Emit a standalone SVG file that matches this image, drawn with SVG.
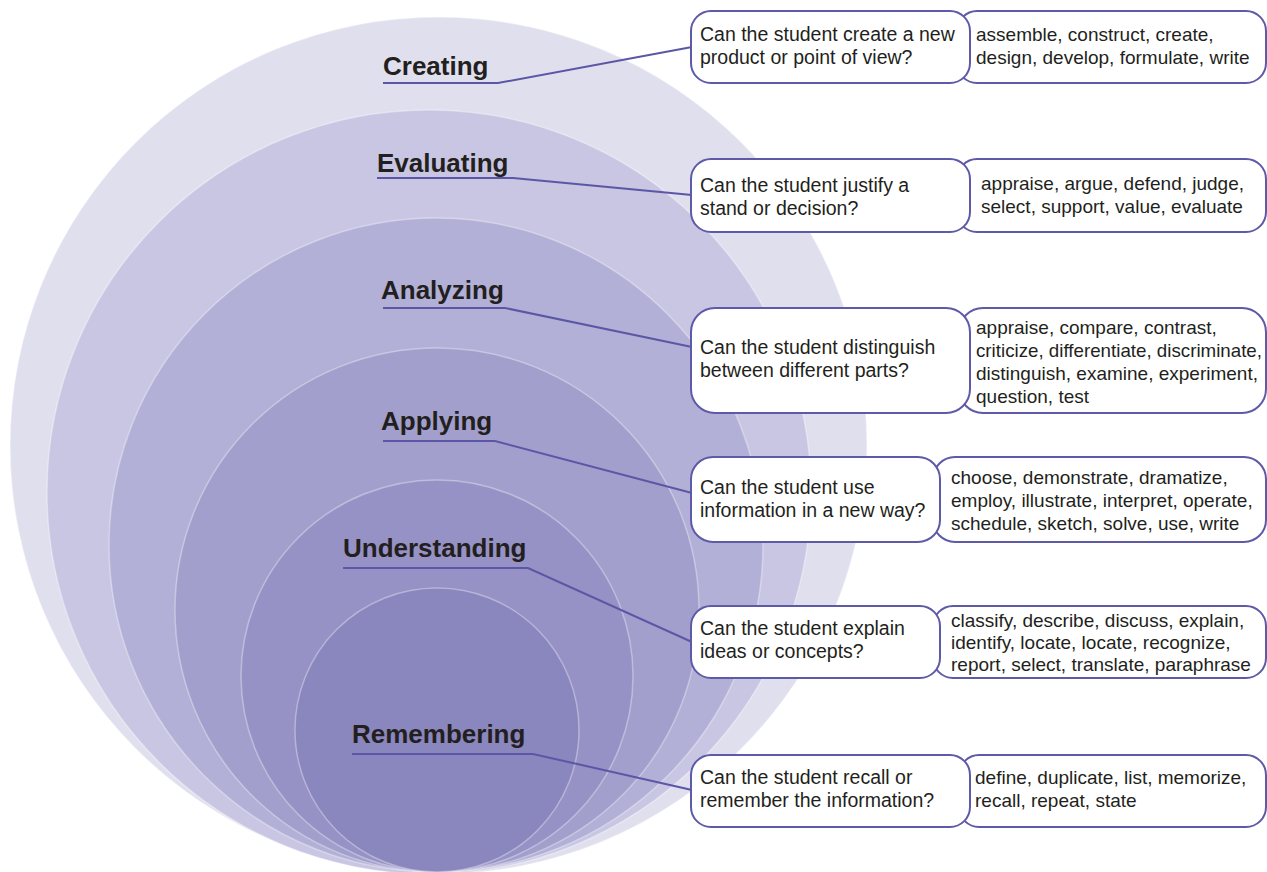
<svg xmlns="http://www.w3.org/2000/svg" width="1267" height="872" viewBox="0 0 1267 872">
<style>
.ring{stroke:#ffffff;stroke-opacity:0.35;stroke-width:1.5}
.title{font-family:"Liberation Sans",Arial,sans-serif;font-weight:bold;font-size:26px;fill:#231f20}
.txt{font-family:"Liberation Sans",Arial,sans-serif;font-size:19.5px;fill:#231f20}
.ans{font-family:"Liberation Sans",Arial,sans-serif;font-size:19px;fill:#231f20}
.box{fill:#ffffff;stroke:#5e5aa8;stroke-width:2}
.conn{fill:none;stroke:#5b57a6;stroke-width:2}
</style>
<rect width="1267" height="872" fill="#ffffff"/>
<g id="circles">
<circle class="ring" cx="438.5" cy="445.5" r="428.5" fill="#e0dfee"/>
<circle class="ring" cx="429" cy="492" r="382" fill="#c8c6e2"/>
<circle class="ring" cx="436" cy="545" r="327" fill="#b2b0d6"/>
<circle class="ring" cx="437" cy="610" r="262" fill="#a29fcd"/>
<circle class="ring" cx="437" cy="676" r="196" fill="#9692c5"/>
<circle class="ring" cx="437" cy="730" r="142" fill="#8a86be"/>
</g>
<g id="connectors">
<polyline class="conn" points="383,83 498,83 692,47"/>
<polyline class="conn" points="377,178 513,178 692,195"/>
<polyline class="conn" points="383,308 505,308 692,347"/>
<polyline class="conn" points="383,441 495,441 692,493"/>
<polyline class="conn" points="343,568 528,568 692,642"/>
<polyline class="conn" points="352,754 533,754 692,790"/>
</g>
<g id="creating">
<text class="title" x="383" y="75">Creating</text>
<rect class="box" x="957" y="11" width="309" height="72" rx="20"/>
<rect class="box" x="691" y="11" width="279" height="72" rx="20"/>
<text class="txt" x="700" y="41">Can the student create a new</text>
<text class="txt" x="700" y="64">product or point of view?</text>
<text class="ans" x="976" y="41">assemble, construct, create,</text>
<text class="ans" x="976" y="64">design, develop, formulate, write</text>
</g>
<g id="evaluating">
<text class="title" x="377" y="172">Evaluating</text>
<rect class="box" x="957" y="159" width="309" height="73" rx="20"/>
<rect class="box" x="691" y="159" width="279" height="73" rx="20"/>
<text class="txt" x="700" y="192">Can the student justify a</text>
<text class="txt" x="700" y="215">stand or decision?</text>
<text class="ans" x="981" y="190">appraise, argue, defend, judge,</text>
<text class="ans" x="981" y="213">select, support, value, evaluate</text>
</g>
<g id="analyzing">
<text class="title" x="381" y="299">Analyzing</text>
<rect class="box" x="959" y="308" width="307" height="105" rx="24"/>
<rect class="box" x="691" y="308" width="279" height="105" rx="24"/>
<text class="txt" x="700" y="354">Can the student distinguish</text>
<text class="txt" x="700" y="377">between different parts?</text>
<text class="ans" x="976" y="334">appraise, compare, contrast,</text>
<text class="ans" x="976" y="357" textLength="286" lengthAdjust="spacingAndGlyphs">criticize, differentiate, discriminate,</text>
<text class="ans" x="976" y="380">distinguish, examine, experiment,</text>
<text class="ans" x="976" y="403">question, test</text>
</g>
<g id="applying">
<text class="title" x="381" y="430">Applying</text>
<rect class="box" x="933" y="457" width="333" height="85" rx="22"/>
<rect class="box" x="691" y="457" width="249" height="85" rx="22"/>
<text class="txt" x="700" y="494">Can the student use</text>
<text class="txt" x="700" y="517">information in a new way?</text>
<text class="ans" x="951" y="484">choose, demonstrate, dramatize,</text>
<text class="ans" x="951" y="507">employ, illustrate, interpret, operate,</text>
<text class="ans" x="951" y="530">schedule, sketch, solve, use, write</text>
</g>
<g id="understanding">
<text class="title" x="343" y="557">Understanding</text>
<rect class="box" x="933" y="606" width="333" height="72" rx="20"/>
<rect class="box" x="691" y="606" width="249" height="72" rx="20"/>
<text class="txt" x="700" y="635">Can the student explain</text>
<text class="txt" x="700" y="658">ideas or concepts?</text>
<text class="ans" x="951" y="627">classify, describe, discuss, explain,</text>
<text class="ans" x="951" y="649">identify, locate, locate, recognize,</text>
<text class="ans" x="951" y="671">report, select, translate, paraphrase</text>
</g>
<g id="remembering">
<text class="title" x="352" y="743">Remembering</text>
<rect class="box" x="959" y="755" width="307" height="72" rx="20"/>
<rect class="box" x="691" y="755" width="279" height="72" rx="20"/>
<text class="txt" x="700" y="784">Can the student recall or</text>
<text class="txt" x="700" y="807">remember the information?</text>
<text class="ans" x="975" y="784">define, duplicate, list, memorize,</text>
<text class="ans" x="975" y="807">recall, repeat, state</text>
</g>
</svg>
